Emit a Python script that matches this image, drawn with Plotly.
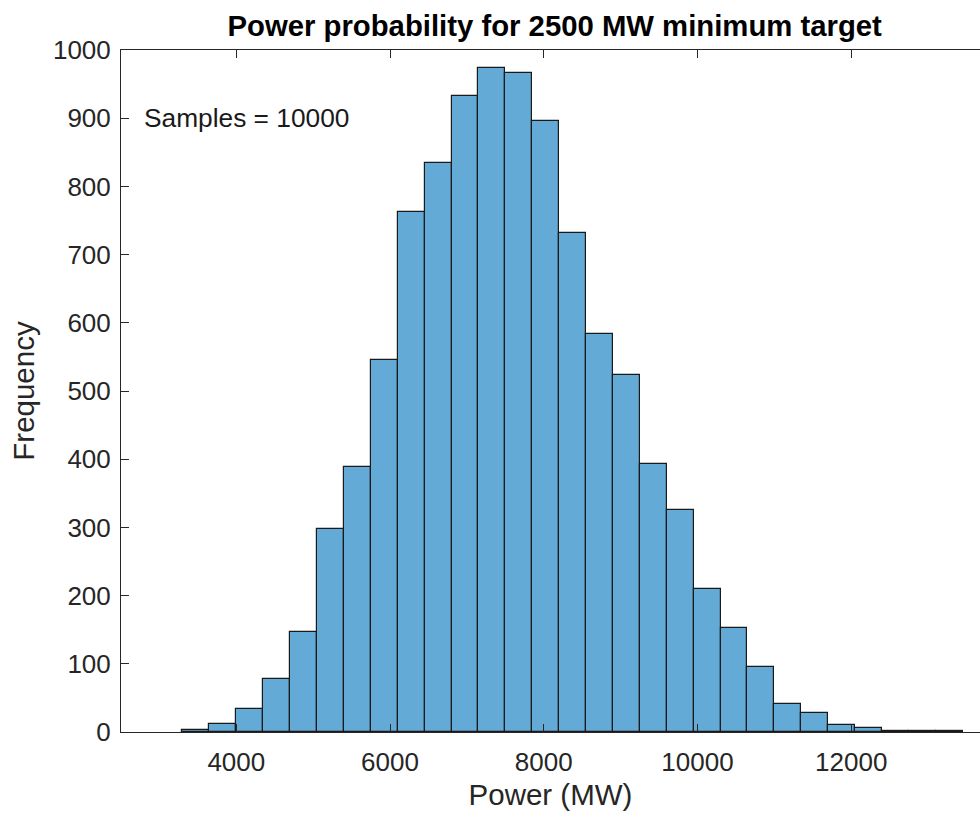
import plotly.graph_objects as go

# Histogram bins (MW): left edges, bin width 350 MW
bin_left_edges = [3300, 3650, 4000, 4350, 4700, 5050, 5400, 5750, 6100, 6450,
                  6800, 7150, 7500, 7850, 8200, 8550, 8900, 9250, 9600, 9950,
                  10300, 10650, 11000, 11350, 11700, 12050, 12400, 12750, 13100]
bin_width = 350
counts = [3, 12, 34, 77, 147, 298, 389, 545, 762, 835,
          933, 973, 966, 896, 731, 584, 524, 393, 326, 210,
          153, 95, 41, 28, 10, 6, 2, 1, 1]

x_ticks = [4000, 6000, 8000, 10000, 12000]
y_ticks = [0, 100, 200, 300, 400, 500, 600, 700, 800, 900, 1000]

title_text = "Power probability for 2500 MW minimum target"
x_label = "Power (MW)"
y_label = "Frequency"
note_text = "Samples = 10000"

centers = [e + bin_width / 2 for e in bin_left_edges]

AX = "#262626"
FONT = "Liberation Sans, Arial, Helvetica, sans-serif"

fig = go.Figure()
fig.add_trace(go.Bar(
    x=centers, y=counts, width=[bin_width] * len(counts),
    marker=dict(color="rgb(99,170,214)", line=dict(color="#1a1a1a", width=1.2)),
    hoverinfo="x+y",
))

fig.update_layout(
    width=980, height=817,
    margin=dict(l=121, r=0, t=50, b=85, pad=0),
    paper_bgcolor="white", plot_bgcolor="white",
    showlegend=False, bargap=0,
    font=dict(family=FONT, color=AX),
    title=dict(text="<b>" + title_text + "</b>", x=0.566, xanchor="center",
               y=0.969, yanchor="middle",
               font=dict(family=FONT, size=29.3, color="#000000")),
    annotations=[dict(text=note_text, x=2775, y=900, xref="x", yref="y",
                      xanchor="left", yanchor="middle", showarrow=False,
                      font=dict(family=FONT, size=26.3, color="#1a1a1a"))],
)

fig.update_xaxes(
    range=[2500, 13675], tickvals=x_ticks, ticktext=[str(v) for v in x_ticks],
    ticks="inside", ticklen=8, tickwidth=1, tickcolor=AX,
    showline=True, linecolor=AX, linewidth=1, mirror="ticks",
    showgrid=False, zeroline=False,
    tickfont=dict(family=FONT, size=26, color=AX),
    ticklabelstandoff=7,
    title=dict(text=x_label, font=dict(family=FONT, size=29.5, color=AX), standoff=8),
)
fig.update_yaxes(
    range=[0, 1000], tickvals=y_ticks, ticktext=[str(v) for v in y_ticks],
    ticks="inside", ticklen=8, tickwidth=1, tickcolor=AX,
    showline=True, linecolor=AX, linewidth=1,
    showgrid=False, zeroline=False,
    tickfont=dict(family=FONT, size=26, color=AX),
    ticklabelstandoff=4,
    title=dict(text=y_label, font=dict(family=FONT, size=29.5, color=AX), standoff=9),
)

fig.write_html("out.html")
